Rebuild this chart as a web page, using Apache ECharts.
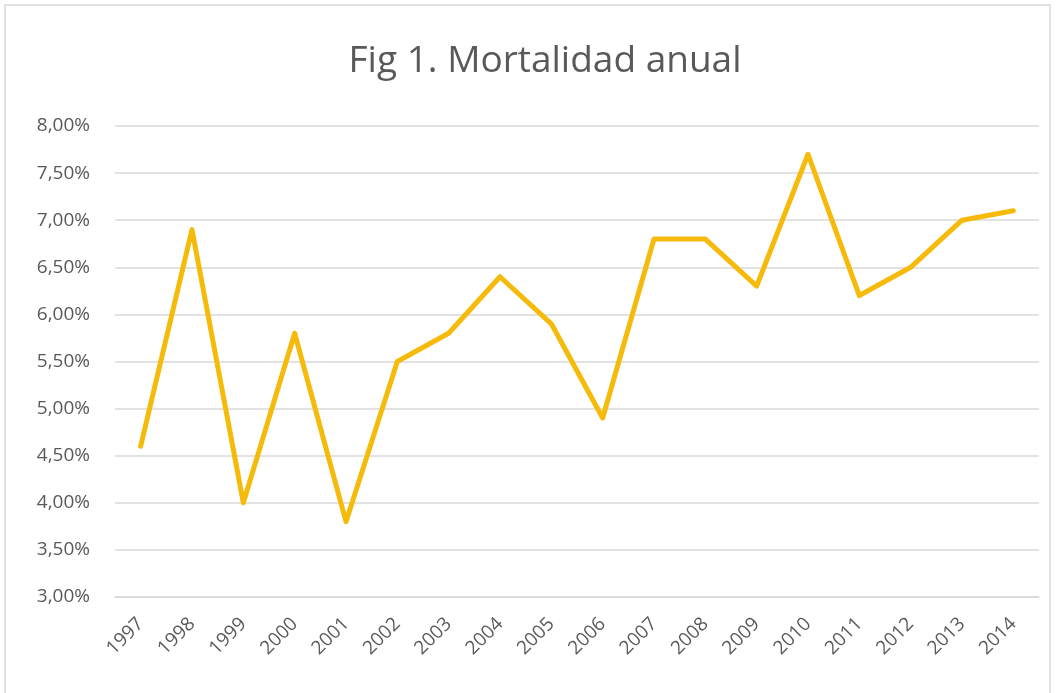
<!DOCTYPE html>
<html><head><meta charset="utf-8">
<script src="https://cdn.jsdelivr.net/npm/echarts@6/dist/echarts.min.js"></script>
<style>html,body{margin:0;padding:0;background:#fff}#c{width:1056px;height:693px}</style>
</head><body><div id="c"></div>
<script>
const years = ['1997','1998','1999','2000','2001','2002','2003','2004','2005','2006','2007','2008','2009','2010','2011','2012','2013','2014'];
const mortality = [4.6, 6.9, 4.0, 5.8, 3.8, 5.5, 5.8, 6.4, 5.9, 4.9, 6.8, 6.8, 6.3, 7.7, 6.2, 6.5, 7.0, 7.1];
const yMin = 3, yMax = 8, yStep = 0.5;
const chart = echarts.init(document.getElementById('c'));
const font = '"Open Sans", "Noto Sans", sans-serif';
chart.setOption({
  animation: false,
  backgroundColor: '#fff',
  graphic: [{type:'rect', shape:{x:5,y:5,width:1045,height:700}, style:{fill:'none', stroke:'#d9d9d9', lineWidth:1.5}, silent:true}],
  title: {
    text: 'Fig 1. Mortalidad anual', left: 540, top: 38, textAlign: 'center',
    textStyle: {fontFamily: font, fontSize: 37, fontWeight: 'normal', color: '#595959'}
  },
  grid: {left: 115, right: 17, top: 126, bottom: 96},
  xAxis: {
    type: 'category', data: years, boundaryGap: true,
    axisLine: {show: true, lineStyle: {color: '#d9d9d9', width: 1.5}},
    axisTick: {show: false},
    axisLabel: {rotate: 45, margin: 24, fontFamily: font, fontSize: 19, color: '#595959', interval: 0}
  },
  yAxis: {
    type: 'value', min: yMin, max: yMax, interval: yStep,
    axisLine: {show: false}, axisTick: {show: false},
    splitLine: {lineStyle: {color: '#d9d9d9', width: 1.5}},
    axisLabel: {margin: 25, fontFamily: font, fontSize: 19, color: '#595959',
      formatter: v => v.toFixed(2).replace('.', ',') + '%'}
  },
  series: [{
    type: 'line', data: mortality, symbol: 'none',
    lineStyle: {color: '#F5BA0A', width: 5, cap: 'round', join: 'round'}
  }]
});
</script></body></html>
